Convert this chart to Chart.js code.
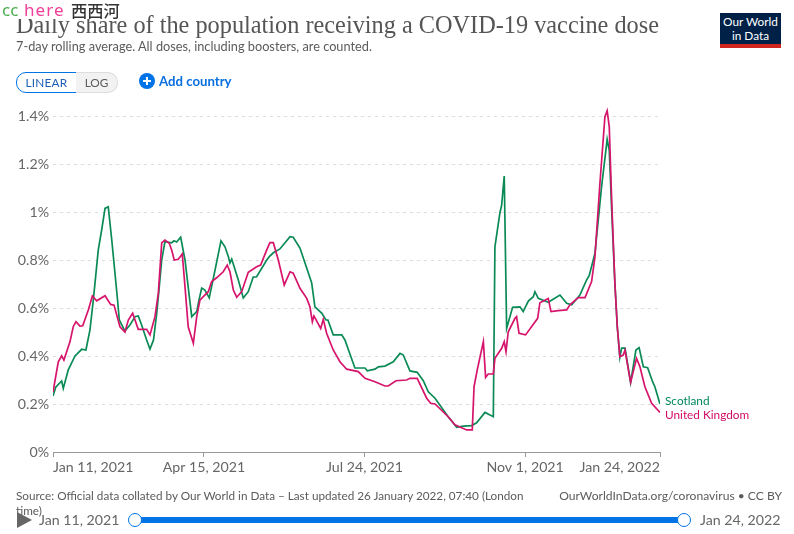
<!DOCTYPE html>
<html>
<head>
<meta charset="utf-8">
<script src="https://cdn.jsdelivr.net/npm/chart.js@4"></script>
<style>
html, body { margin: 0; padding: 0; background: #fff; }
#wrap { position: relative; width: 794px; height: 534px; overflow: hidden; font-family: Lato, sans-serif; color: #666; }
#wrap div, #wrap span { position: absolute; white-space: nowrap; }
canvas { position: absolute; left: 0; top: 0; }
</style>
</head>
<body>
<div id="wrap">
  <canvas id="lineChart" width="794" height="534"></canvas>

  <div style="left:16px;top:7px;font:24.3px/36px 'Liberation Serif',serif;color:#555">Daily share of the population receiving a COVID-19 vaccine dose</div>
  <div style="left:0;top:0;width:130px;height:19px;background:#fff"></div>
  <div style="left:2px;top:0;font:17px/20px 'Noto Sans',sans-serif;color:#4caf50">cc</div>
  <div style="left:24px;top:0;font:17px/20px 'Noto Sans',sans-serif;color:#f0409a;letter-spacing:1.1px">here</div>
  <div style="left:71px;top:0;font:500 16.3px/20px 'Noto Sans CJK SC',sans-serif;color:#333">西西河</div>
  <div style="left:16px;top:38px;font:12.75px/16px Lato,sans-serif;color:#5b5b5b">7-day rolling average. All doses, including boosters, are counted.</div>

  <div style="left:16px;top:72px;width:59px;height:19px;border:1px solid #0073e6;border-radius:10px 0 0 10px;font:11.8px/19px Lato,sans-serif;color:#1d5fb8;text-align:center;letter-spacing:.2px">LINEAR</div>
  <div style="left:76px;top:72px;width:41px;height:19px;border:1px solid #ddd;border-left:0;border-radius:0 10px 10px 0;background:#f2f2f2;font:11.8px/19px Lato,sans-serif;color:#5b5b5b;text-align:center">LOG</div>
  <div style="left:139px;top:73px;width:16px;height:16px;border-radius:8px;background:#0073e6"></div>
  <div style="left:143px;top:80px;width:8px;height:2px;background:#fff"></div>
  <div style="left:146px;top:77px;width:2px;height:8px;background:#fff"></div>
  <div style="left:159px;top:73px;font:bold 13.2px/17px Lato,sans-serif;color:#0a6fe0">Add country</div>

  <div style="left:720px;top:13px;width:61px;height:31px;background:#002147;color:#fff;font:11.8px/14px Lato,sans-serif;text-align:center;padding-top:2px;box-sizing:border-box">Our World<br>in Data</div>
  <div style="left:720px;top:44px;width:61px;height:4px;background:#ce261e"></div>

  <div style="left:665px;top:394px;font:11.8px/14px Lato,sans-serif;color:#00875e">Scotland</div>
  <div style="left:665px;top:408px;font:11.8px/14px Lato,sans-serif;color:#cf0a66">United Kingdom</div>

  <div style="left:16px;top:488px;width:530px;white-space:normal;font:11.73px/15px Lato,sans-serif;color:#5b5b5b">Source: Official data collated by Our World in Data – Last updated 26 January 2022, 07:40 (London time)</div>
  <div style="right:12px;top:488px;font:12.1px/15px Lato,sans-serif;color:#5b5b5b">OurWorldInData.org/coronavirus • CC BY</div>

  <div style="left:17px;top:512px;width:0;height:0;border-left:15px solid #666;border-top:8px solid transparent;border-bottom:8px solid transparent"></div>
  <div style="left:39px;top:512px;font:14.2px/16px Lato,sans-serif;color:#666">Jan 11, 2021</div>
  <div style="left:135px;top:517px;width:549px;height:6px;background:#0073e6"></div>
  <div style="left:128px;top:513px;width:12px;height:12px;border:1.5px solid #0073e6;border-radius:8px;background:#fff"></div>
  <div style="left:677px;top:513px;width:12px;height:12px;border:1.5px solid #0073e6;border-radius:8px;background:#fff"></div>
  <div style="left:700px;top:512px;font:14.2px/16px Lato,sans-serif;color:#666">Jan 24, 2022</div>
</div>

<script>
// days since Jan 11, 2021
const tick_days = [0, 94, 194, 294, 378];
const tick_labels = ['Jan 11, 2021', 'Apr 15, 2021', 'Jul 24, 2021', 'Nov 1, 2021', 'Jan 24, 2022'];
const y_ticks = [0, 0.2, 0.4, 0.6, 0.8, 1, 1.2, 1.4];

const scotland_days = [0,1.7,5.4,6.4,9.5,13.7,17.9,20.5,23,25.1,28.2,30.3,32.4,34.4,36.6,39.9,41.3,44.8,47.9,51.1,53.1,55.2,58.3,60.4,62.6,64.6,66,67.7,69.7,73.9,75.3,77,79.5,82.2,84.9,86.4,89.5,90.9,92.6,94.6,97.3,100.9,104.6,107.1,109.2,110.2,111.3,115.4,118.5,121.6,124.7,126.8,133.1,134.7,137.2,141.3,147.6,149.6,153.8,161.1,163.1,167.3,170,171.2,174.5,179.8,181.8,188,194.3,195.7,200.5,202.6,206.7,211.9,216.1,218.1,222.3,226.8,230.6,233.7,237.9,246.1,251.4,255.5,260.7,263.8,269,274.2,275.2,278.3,279.4,281,282.5,286.2,290.8,292.8,296,299.1,300.1,302.2,308.4,315.7,319.9,323,328.1,332.3,333.9,337.5,341.6,345.1,346.4,347.9,349.9,351.4,353,354.1,356.2,359.7,363,365,367.6,370.3,373.4,374.8,378];
const scotland_values = [.233,.27,.296,.265,.342,.40,.428,.425,.508,.633,.842,.925,1.015,1.022,.883,.654,.55,.504,.529,.564,.567,.529,.467,.429,.467,.579,.675,.80,.876,.871,.88,.875,.895,.80,.647,.564,.585,.633,.683,.675,.642,.758,.88,.855,.814,.788,.804,.717,.642,.668,.729,.73,.80,.814,.83,.846,.897,.895,.85,.704,.605,.579,.55,.55,.488,.488,.467,.35,.35,.338,.345,.355,.358,.376,.411,.404,.338,.332,.297,.251,.224,.147,.103,.108,.11,.122,.165,.147,.855,.996,1.029,1.15,.515,.603,.605,.585,.629,.647,.668,.64,.624,.654,.62,.613,.654,.717,.735,.828,1.105,1.303,1.258,1.008,.704,.522,.395,.433,.433,.29,.425,.435,.355,.351,.293,.272,.20];

const uk_days = [0,3.3,5.4,6.8,10.6,12.6,14.3,16.8,18.5,22,24.5,27.2,32.4,35.9,38,41.7,44.8,46.9,49.6,53.1,58.3,60.4,63.5,65.6,67.7,69.7,72.4,73.9,75.5,78,80.5,82.2,84.2,87.4,89.5,91.5,93.6,96.7,98.8,101.9,106,108.5,110.2,112.3,114.4,117.5,121.6,126.8,129.3,133.1,135.1,137.2,140.3,144,147.6,149.6,153.8,158,160,161.5,162.5,166.7,168.3,170.4,174.5,178.7,182.9,190.1,194.3,200.5,206.7,208.8,213.6,220.2,222.3,226.8,232.7,235.2,237.9,246.1,250.3,257.6,261.1,262.2,264.2,268,269.4,271,274.2,275.2,279.4,281,282.1,283.5,287.7,288.7,290.2,294.3,301.8,303.2,308.4,310.1,314.6,319.9,321.9,327.1,331.3,335.4,337.5,340.6,343.7,345.1,346.4,347.9,349.9,351.4,353,355.1,356.2,359.7,363.4,365.5,368.6,372.8,378];
const uk_values = [.25,.376,.401,.383,.46,.522,.543,.525,.526,.592,.65,.63,.651,.615,.612,.522,.50,.55,.578,.511,.511,.488,.564,.663,.871,.883,.87,.842,.80,.803,.825,.689,.522,.453,.564,.633,.647,.668,.71,.726,.751,.779,.751,.675,.645,.668,.749,.772,.779,.842,.872,.872,.80,.696,.751,.745,.682,.64,.605,.543,.567,.515,.553,.495,.425,.376,.345,.335,.307,.293,.275,.275,.297,.30,.307,.307,.224,.203,.20,.147,.113,.092,.092,.272,.342,.46,.311,.325,.325,.39,.432,.46,.418,.501,.557,.564,.495,.488,.557,.622,.64,.585,.589,.592,.613,.643,.643,.71,.814,1.121,1.397,1.422,1.355,1.05,.704,.522,.397,.404,.425,.29,.39,.355,.272,.203,.165];

function toPoints(days, values) {
  return days.map((d, i) => ({ x: d, y: values[i] }));
}

var ctxLine = document.getElementById('lineChart').getContext('2d');
var lineChart = new Chart(ctxLine, {
  type: 'line',
  data: {
    datasets: [
      {
        label: 'United Kingdom',
        data: toPoints(uk_days, uk_values),
        borderColor: '#d6146c',
        borderWidth: 1.7,
        pointRadius: 0,
        tension: 0
      },
      {
        label: 'Scotland',
        data: toPoints(scotland_days, scotland_values),
        borderColor: '#0a8a55',
        borderWidth: 1.7,
        pointRadius: 0,
        tension: 0
      }
    ]
  },
  options: {
    responsive: false,
    animation: false,
    layout: { padding: { top: 104, right: 134, left: 0, bottom: 0 } },
    plugins: {
      legend: { display: false },
      tooltip: { enabled: false }
    },
    scales: {
      x: {
        type: 'linear',
        min: 0,
        max: 378,
        afterFit: scale => { scale.height = 82; },
        afterBuildTicks: scale => { scale.ticks = tick_days.map(d => ({ value: d })); },
        border: { color: '#999' },
        grid: { drawOnChartArea: false, drawTicks: true, tickLength: 5, color: '#999' },
        ticks: {
          align: 'inner',
          maxRotation: 0,
          autoSkip: false,
          padding: 2,
          color: '#666',
          font: { family: 'Lato', size: 14.2 },
          callback: v => tick_labels[tick_days.indexOf(v)]
        }
      },
      y: {
        min: 0,
        max: 1.45,
        afterFit: scale => { scale.width = 53; },
        afterBuildTicks: scale => { scale.ticks = y_ticks.map(v => ({ value: v })); },
        border: { display: true, width: 0, dash: [3, 4] },
        grid: {
          drawTicks: false,
          color: c => c.tick.value === 0 ? 'transparent' : '#ddd'
        },
        ticks: {
          padding: 4,
          color: '#666',
          font: { family: 'Lato', size: 14.2 },
          callback: v => v + '%'
        }
      }
    }
  }
});
</script>
</body>
</html>
